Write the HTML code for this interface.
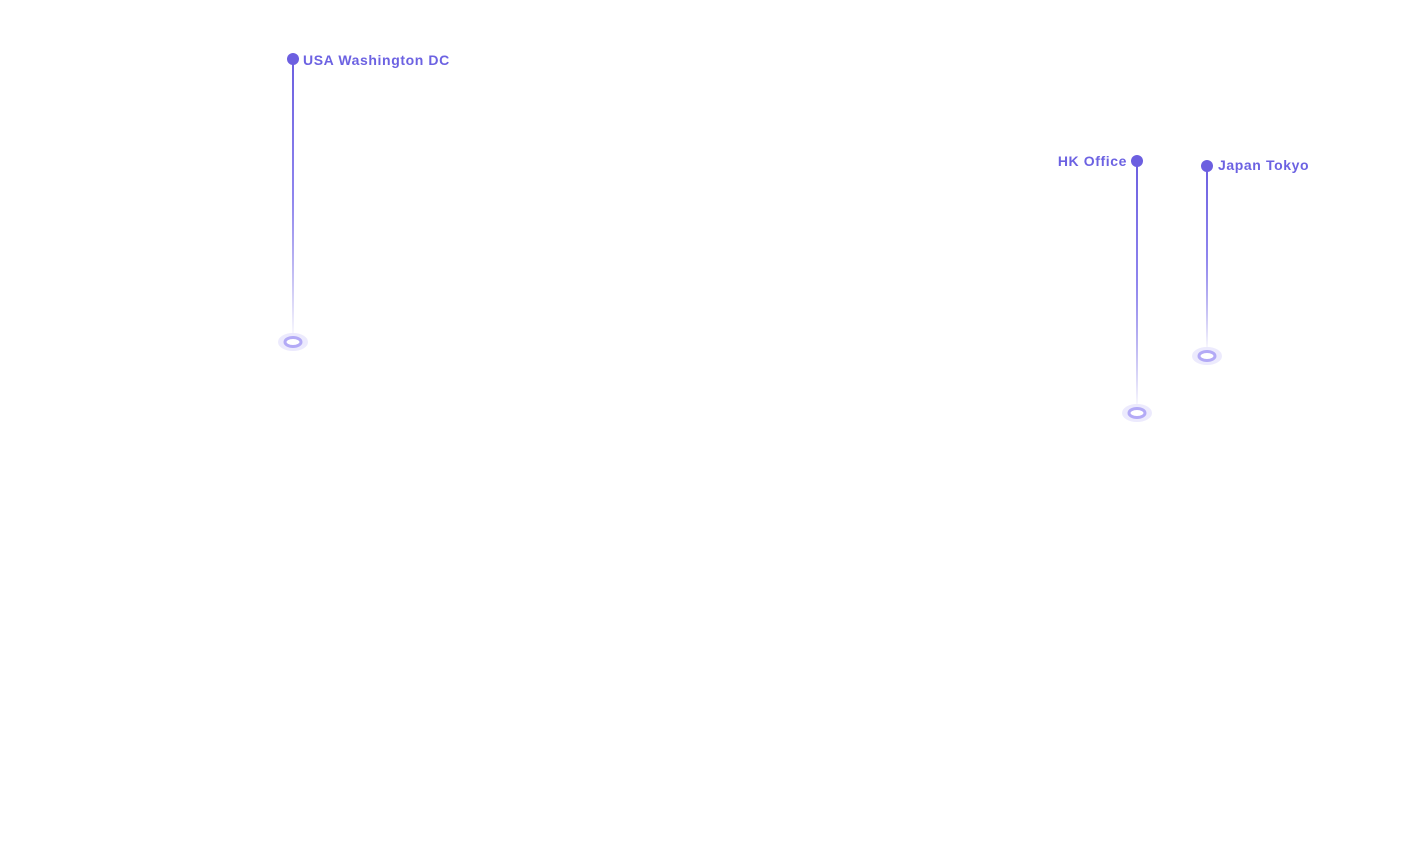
<!DOCTYPE html>
<html><head><style>
html,body{margin:0;padding:0;background:#fff;width:1410px;height:849px;overflow:hidden}
text{font-family:"Liberation Sans",sans-serif;font-weight:bold;font-size:14px;fill:#6c62e2;letter-spacing:0.6px}
</style></head><body>
<svg width="1410" height="849" xmlns="http://www.w3.org/2000/svg">
<defs>
<linearGradient id="g" x1="0" y1="0" x2="0" y2="1">
<stop offset="0" stop-color="#6c5fe0"/><stop offset="0.5" stop-color="#8f85ee"/><stop offset="1" stop-color="#6c5fe0" stop-opacity="0.05"/>
</linearGradient>
</defs>
<g>
<rect x="292" y="59" width="2" height="274" fill="url(#g)"/>
<circle cx="293" cy="59" r="6" fill="#6c5fe0"/>
<ellipse cx="293" cy="342" rx="15" ry="9" fill="#eceafd"/>
<ellipse cx="293" cy="342" rx="8" ry="4.5" fill="#fff" stroke="#b3aaf6" stroke-width="3"/>
<text x="303" y="65">USA Washington DC</text>
</g>
<g>
<rect x="1136" y="161" width="2" height="243" fill="url(#g)"/>
<circle cx="1137" cy="161" r="6" fill="#6c5fe0"/>
<ellipse cx="1137" cy="413" rx="15" ry="9" fill="#eceafd"/>
<ellipse cx="1137" cy="413" rx="8" ry="4.5" fill="#fff" stroke="#b3aaf6" stroke-width="3"/>
<text x="1127" y="166" text-anchor="end">HK Office</text>
</g>
<g>
<rect x="1206" y="166" width="2" height="181" fill="url(#g)"/>
<circle cx="1207" cy="166" r="6" fill="#6c5fe0"/>
<ellipse cx="1207" cy="356" rx="15" ry="9" fill="#eceafd"/>
<ellipse cx="1207" cy="356" rx="8" ry="4.5" fill="#fff" stroke="#b3aaf6" stroke-width="3"/>
<text x="1218" y="170">Japan Tokyo</text>
</g>
</svg>
</body></html>
